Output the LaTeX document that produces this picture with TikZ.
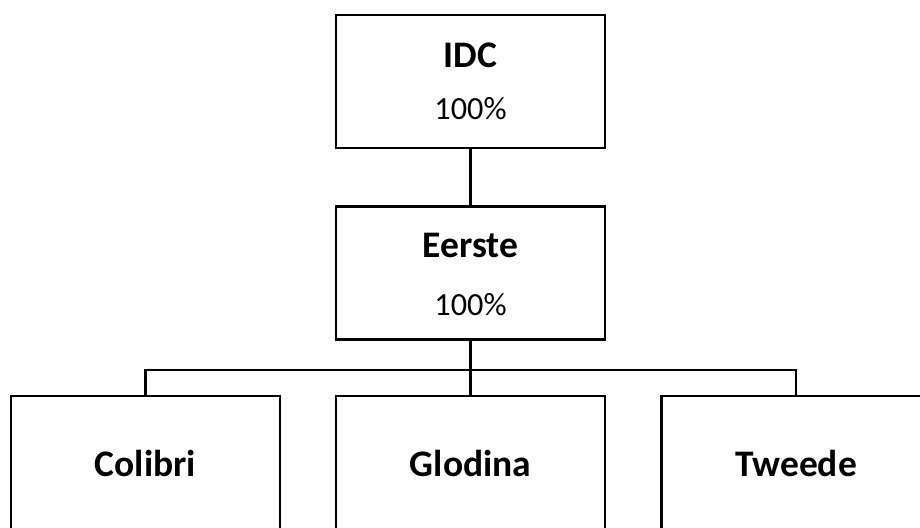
\documentclass[tikz,border=0pt]{standalone}
\usepackage{fontspec}
\setmainfont{Carlito}
\begin{document}
\begin{tikzpicture}[x=1pt,y=-1pt,
  box/.style={draw=black,line width=2.2pt,minimum width=269pt,minimum height=133pt,inner sep=0pt,fill=white},
  lowbox/.style={draw=black,line width=2.2pt,minimum width=269pt,minimum height=170pt,inner sep=0pt,fill=white},
  conn/.style={draw=black,line width=2.2pt},
  title/.style={font=\fontsize{37.5}{40}\selectfont\bfseries,anchor=base},
  pct/.style={font=\fontsize{32.3}{36}\selectfont,anchor=base}]
\useasboundingbox (0,0) rectangle (920,527);
\clip (0,0) rectangle (920,527);
\node[box] (idc) at (470.5,81.5) {};
\node[box] (eerste) at (470.5,273) {};
\node[lowbox] (colibri) at (145.5,481) {};
\node[lowbox] (glodina) at (470.5,481) {};
\node[lowbox] (tweede) at (796,481) {};
\coordinate (bus) at ([yshift=-29pt]eerste.south);
\draw[conn] (idc.south) -- (eerste.north);
\draw[conn] (eerste.south) -- (glodina.north);
\draw[conn] (colibri.north) |- (bus) -| (tweede.north);
\node[title] (tidc) at (470.5,67) {IDC};
\node[pct] (pidc) at (470.5,119) {100\%};
\node[title] (teerste) at (470.5,257) {Eerste};
\node[pct] (peerste) at (470.5,315) {100\%};
\node[title] (tcolibri) at (145.5,476) {Colibri};
\node[title] (tglodina) at (470.5,476) {Glodina};
\node[title] (ttweede) at (796,476) {Tweede};
\end{tikzpicture}
\end{document}
